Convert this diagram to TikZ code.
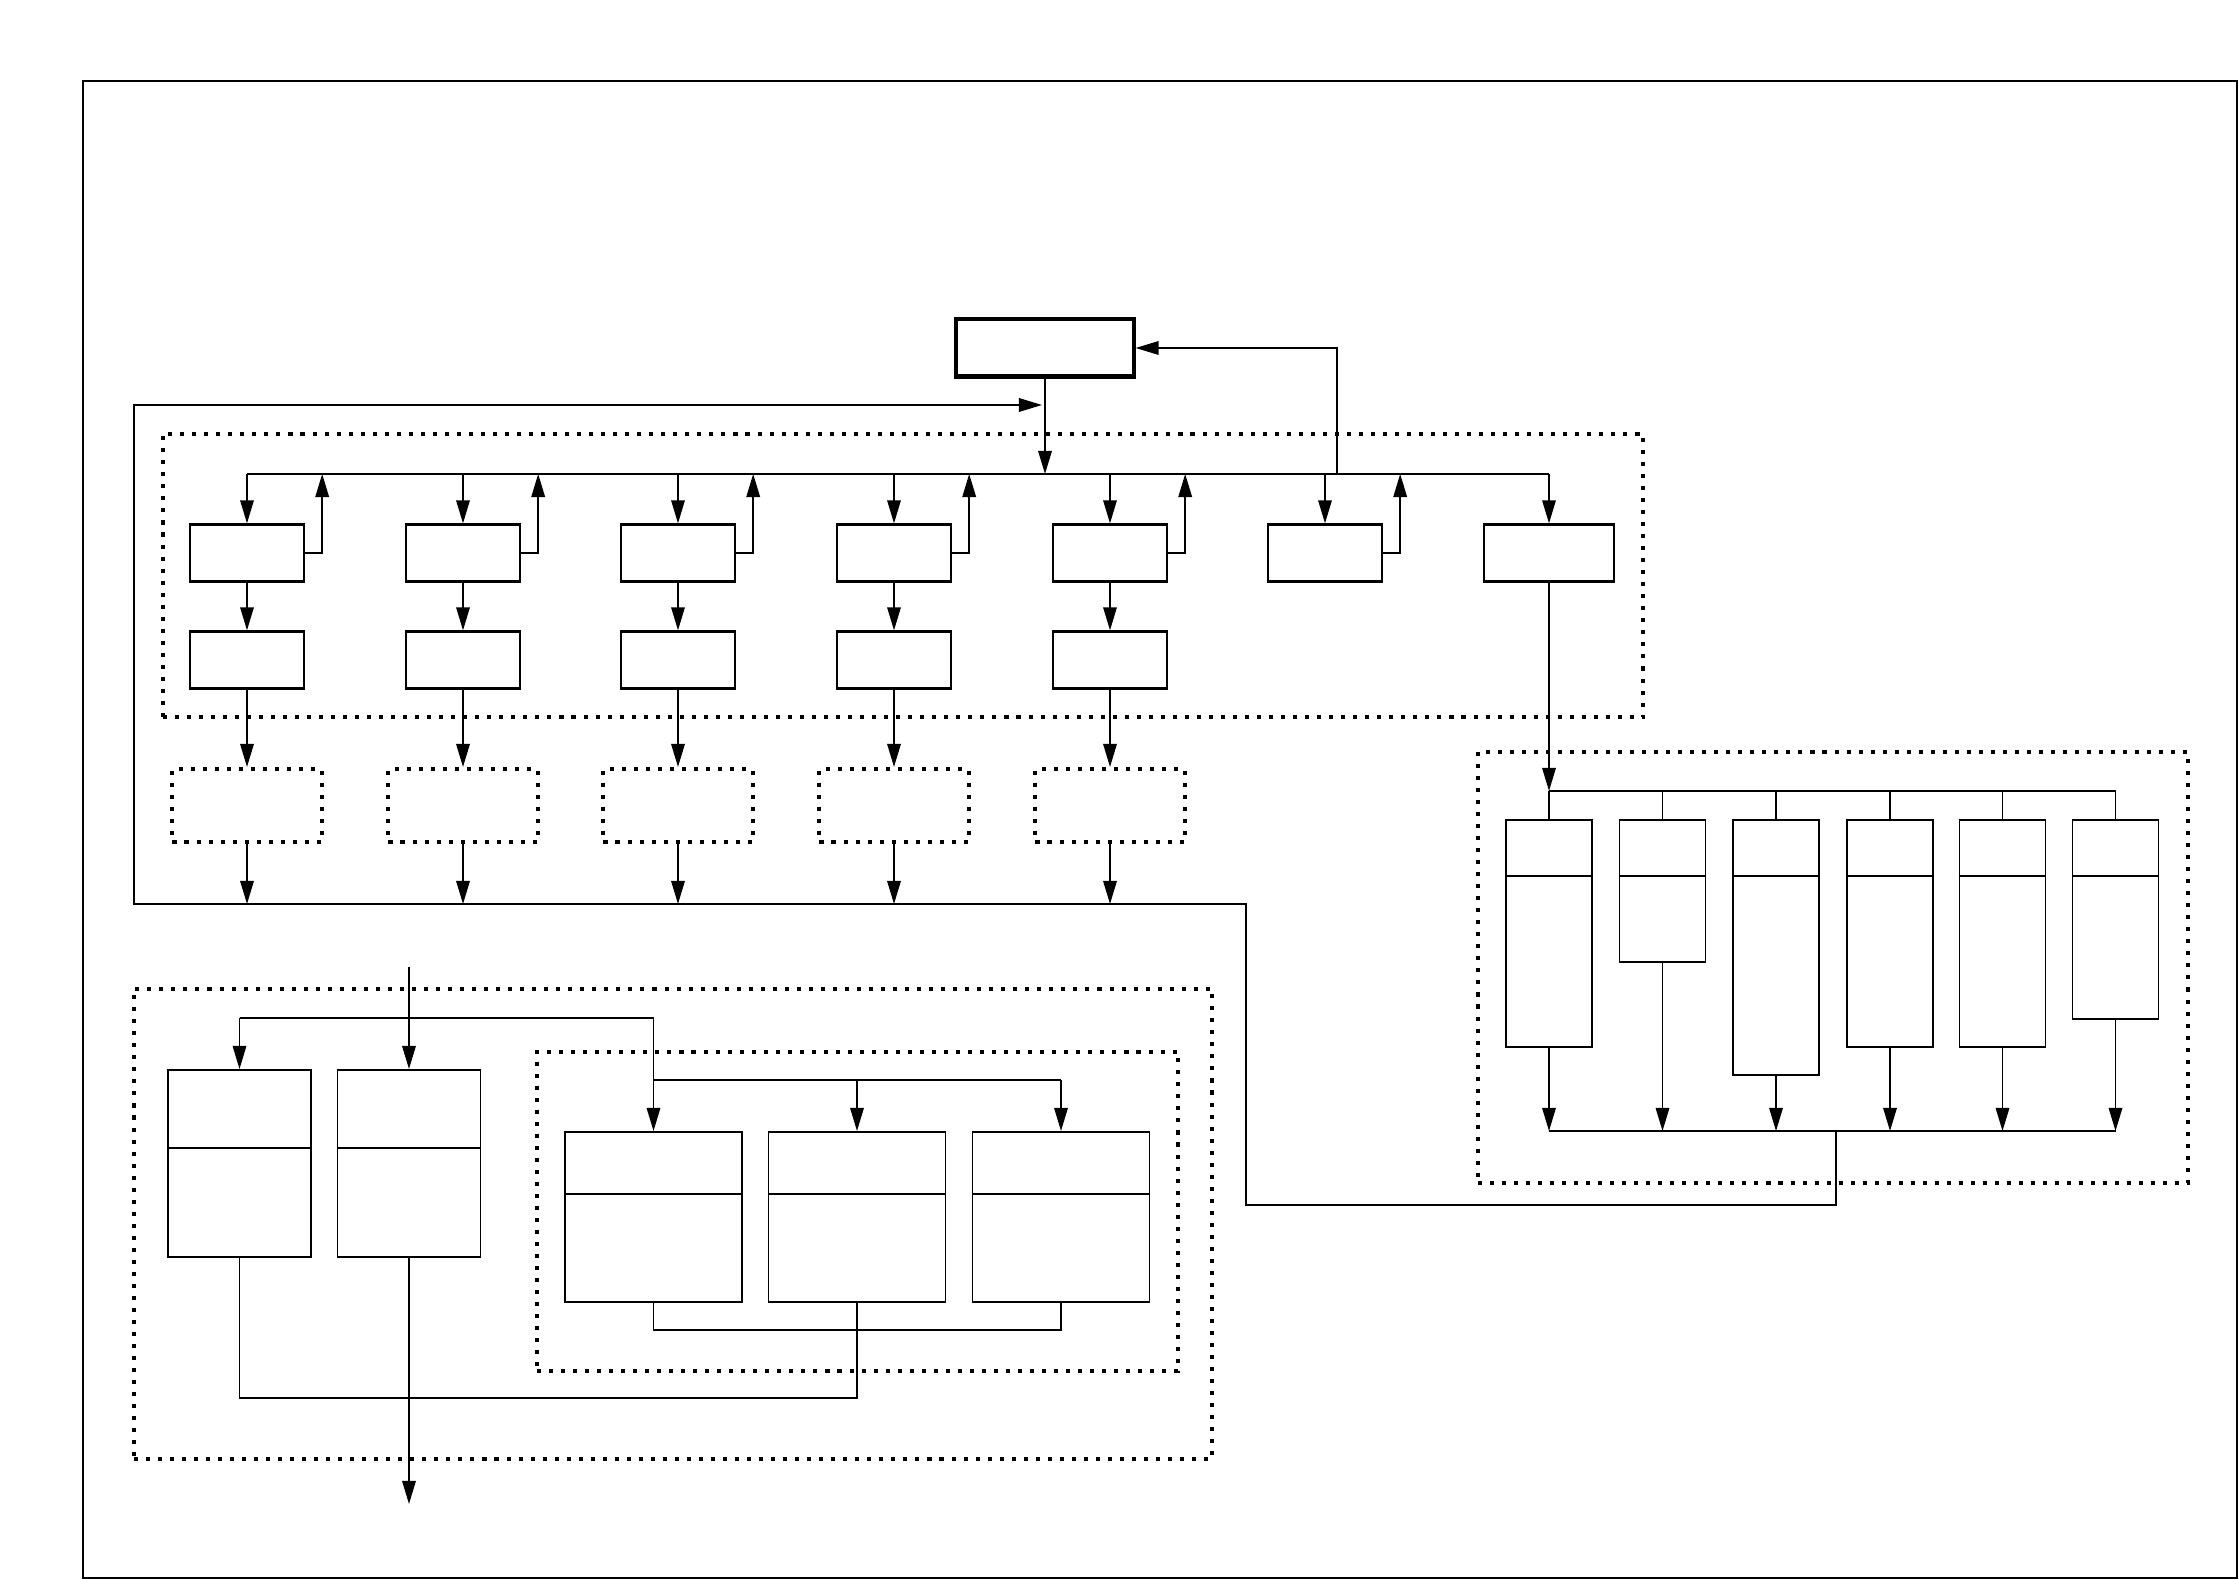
\documentclass[tikz,border=0pt]{standalone}
\usetikzlibrary{arrows.meta,calc}
\begin{document}
\begin{tikzpicture}[x=0.01cm,y=-0.01cm,
  thin/.style={line width=0.45pt},
  arr/.style={thin,-{Triangle[length=2.3mm,width=1.35mm]}},
  box/.style={draw,line width=0.65pt,inner sep=0pt,minimum width=1.14cm,minimum height=0.57cm},
  topbox/.style={draw,line width=1.15pt,inner sep=0pt,minimum width=1.77cm,minimum height=0.57cm},
  dotline/.style={line width=1.15pt,dash pattern=on 1.15pt off 2.27pt},
  dotbox/.style={draw,dotline,inner sep=0pt},
  tbox/.style={draw,thin,inner sep=0pt,anchor=north,minimum width=0.86cm},
  lbox/.style={draw,thin,inner sep=0pt,anchor=north},
]
\useasboundingbox[fill=white] (0,0) rectangle (2239,1580);
\draw[line width=0.55pt] (83,81) rectangle (2237,1578);

% ---------- group 1 ----------
\node[dotbox,minimum width=14.80cm,minimum height=2.83cm] (g1) at (903,575.5) {};
\node[topbox] (top) at (1045,348) {};

\node[box] (r11) at (247,553) {};
\node[box] (r12) at (463,553) {};
\node[box] (r13) at (678,553) {};
\node[box] (r14) at (894,553) {};
\node[box] (r15) at (1110,553) {};
\node[box] (r16) at (1325,553) {};
\node[box,minimum width=1.30cm] (r17) at (1549,553) {};

\node[box] (r21) at (247,660) {};
\node[box] (r22) at (463,660) {};
\node[box] (r23) at (678,660) {};
\node[box] (r24) at (894,660) {};
\node[box] (r25) at (1110,660) {};

\node[dotbox,minimum width=1.49cm,minimum height=0.73cm] (d1) at (247,805.5) {};
\node[dotbox,minimum width=1.49cm,minimum height=0.73cm] (d2) at (463,805.5) {};
\node[dotbox,minimum width=1.49cm,minimum height=0.73cm] (d3) at (678,805.5) {};
\node[dotbox,minimum width=1.49cm,minimum height=0.73cm] (d4) at (894,805.5) {};
\node[dotbox,minimum width=1.49cm,minimum height=0.73cm] (d5) at (1110,805.5) {};

\coordinate (bus) at (0,474);
\coordinate (loopy) at (0,904);
\coordinate (fbt) at (1337,474);

\draw[thin] (r11.north |- bus) -- (r17.north |- bus);
\draw[arr] (top.south) -- (top.south |- bus);
\draw[arr] (fbt) |- (top.east);
\foreach \i in {1,...,7}{
  \draw[arr] (r1\i.north |- bus) -- (r1\i.north);
}
\foreach \i in {1,...,6}{
  \draw[arr] (r1\i.east) -| ([xshift=0.17cm]r1\i.east |- bus);
}
\foreach \i in {1,...,5}{
  \draw[arr] (r1\i.south) -- (r2\i.north);
  \draw[arr] (r2\i.south) -- (d\i.north);
  \draw[arr] (d\i.south) -- (d\i.south |- loopy);
}

% ---------- right group ----------
\node[dotbox,minimum width=7.10cm,minimum height=4.31cm] (g2) at (1833,967.5) {};
\node[tbox,minimum height=2.27cm] (t1) at (1549,819) {};
\node[tbox,minimum height=1.42cm] (t2) at (1662.5,819) {};
\node[tbox,minimum height=2.55cm] (t3) at (1776,819) {};
\node[tbox,minimum height=2.27cm] (t4) at (1890,819) {};
\node[tbox,minimum height=2.27cm] (t5) at (2002.5,819) {};
\node[tbox,minimum height=1.99cm] (t6) at (2115.5,819) {};
\foreach \i in {1,...,6}{
  \draw[thin] ($(t\i.north west)+(0,57)$) -- ($(t\i.north east)+(0,57)$);
}
\coordinate (rb) at (0,791);
\coordinate (ob) at (0,1131);
\draw[arr] (r17.south) -- (r17.south |- rb);
\draw[thin] (t1.north |- rb) -- (t6.north |- rb);
\foreach \i in {1,...,6}{
  \draw[thin] (t\i.north |- rb) -- (t\i.north);
  \draw[arr] (t\i.south) -- (t\i.south |- ob);
}
\draw[thin] (t1.south |- ob) -- (t6.south |- ob);

% ---------- loop back ----------
\coordinate (lp0) at (1836,1131);
\coordinate (lp1) at (1836,1205);
\coordinate (lp2) at (1246,1205);
\coordinate (lp3) at (1246,904);
\coordinate (lp4) at (134,904);
\coordinate (lp5) at (134,405);
\coordinate (jn) at (1042,405);
\draw[arr] (lp0) -- (lp1) -- (lp2) -- (lp3) -- (lp4) -- (lp5) -- (jn);

% ---------- bottom-left group ----------
\node[dotbox,minimum width=10.78cm,minimum height=4.70cm] (g3) at (673,1224) {};
\node[dotbox,minimum width=6.41cm,minimum height=3.19cm] (g4) at (857.5,1211.5) {};
\node[lbox,minimum width=1.43cm,minimum height=1.87cm] (A) at (239.5,1069) {};
\node[lbox,minimum width=1.43cm,minimum height=1.87cm] (B) at (409,1069) {};
\node[lbox,minimum width=1.77cm,minimum height=1.70cm] (I1) at (653.5,1131) {};
\node[lbox,minimum width=1.77cm,minimum height=1.70cm] (I2) at (857,1131) {};
\node[lbox,minimum width=1.77cm,minimum height=1.70cm] (I3) at (1061,1131) {};
\foreach \n in {A,B}{
  \draw[thin] ($(\n.north west)+(0,79)$) -- ($(\n.north east)+(0,79)$);
}
\foreach \n in {I1,I2,I3}{
  \draw[thin] ($(\n.north west)+(0,63)$) -- ($(\n.north east)+(0,63)$);
}
\coordinate (inp) at (408,967);
\coordinate (br) at (0,1018);
\coordinate (ib) at (0,1080);
\coordinate (ob2) at (0,1330);
\coordinate (ob3) at (0,1398);
\coordinate (outp) at (0,1504);
\draw[arr] (B.north |- inp) -- (B.north);
\draw[thin] (A.north |- br) -- (I1.north |- br);
\draw[arr] (A.north |- br) -- (A.north);
\draw[arr] (I1.north |- br) -- (I1.north);
\draw[thin] (I1.north |- ib) -- (I3.north |- ib);
\draw[arr] (I2.north |- ib) -- (I2.north);
\draw[arr] (I3.north |- ib) -- (I3.north);
\draw[thin] (I1.south) -- (I1.south |- ob2) -- (I3.south |- ob2) -- (I3.south);
\draw[thin] (I2.south) -- (I2.south |- ob3) -| (A.south);
\draw[arr] (B.south) -- (B.south |- outp);
\end{tikzpicture}
\end{document}
